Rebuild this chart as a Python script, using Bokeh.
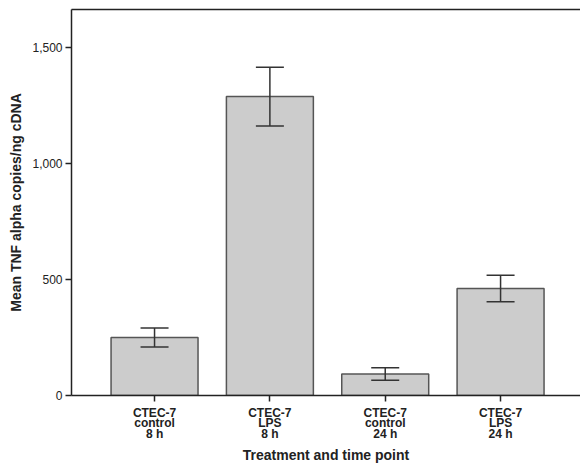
from bokeh.plotting import figure
from bokeh.models import (ColumnDataSource, Range1d, FixedTicker, NumeralTickFormatter,
                          Whisker, TeeHead, LinearAxis)
from bokeh.embed import file_html
from bokeh.resources import INLINE

categories = ["CTEC-7\ncontrol\n8 h", "CTEC-7\nLPS\n8 h", "CTEC-7\ncontrol\n24 h", "CTEC-7\nLPS\n24 h"]
means = [250, 1290, 93, 462]
errors = [41, 127, 27, 57]
y_ticks = [0, 500, 1000, 1500]
x_title = "Treatment and time point"
y_title = "Mean TNF alpha copies/ng cDNA"

xs = list(range(len(categories)))
src = ColumnDataSource(dict(
    x=xs, top=means,
    upper=[m + e for m, e in zip(means, errors)],
    lower=[m - e for m, e in zip(means, errors)],
))

p = figure(width=580, height=466, output_backend="svg", toolbar_location=None,
           x_range=Range1d(-0.72, 3.693), y_range=Range1d(0, 1666),
           min_border_left=71, min_border_right=0, min_border_top=9, min_border_bottom=70)
p.outline_line_color = None
p.xgrid.visible = False
p.ygrid.visible = False
p.background_fill_color = "white"
p.border_fill_color = "white"

p.vbar(x="x", top="top", width=0.754, bottom=0, source=src,
       fill_color="#cccccc", line_color="#555555", line_width=1.5)

w = Whisker(base="x", upper="upper", lower="lower", source=src, level="overlay",
            line_color="#333333", line_width=1.5,
            upper_head=TeeHead(size=28, line_color="#333333", line_width=1.5),
            lower_head=TeeHead(size=28, line_color="#333333", line_width=1.5))
p.add_layout(w)

font = "Liberation Sans"

xa = p.xaxis[0]
xa.ticker = FixedTicker(ticks=xs)
xa.major_label_overrides = {i: c for i, c in zip(xs, categories)}
xa.major_label_text_font = font
xa.major_label_text_font_size = "12px"
xa.major_label_text_font_style = "bold"
xa.major_label_text_color = "#222222"
xa.major_label_text_line_height = 0.77
xa.major_label_standoff = 4
xa.major_tick_out = 6
xa.major_tick_in = 0
xa.minor_tick_out = 0
xa.minor_tick_in = 0
xa.axis_line_color = "#222222"
xa.axis_line_width = 1.5
xa.major_tick_line_color = "#222222"
xa.major_tick_line_width = 1.5
xa.axis_label = x_title
xa.axis_label_text_font = font
xa.axis_label_text_font_size = "14px"
xa.axis_label_text_font_style = "bold"
xa.axis_label_text_color = "#222222"
xa.axis_label_standoff = 3

ya = p.yaxis[0]
ya.ticker = FixedTicker(ticks=y_ticks)
ya.formatter = NumeralTickFormatter(format="0,0")
ya.major_label_text_font = font
ya.major_label_text_font_size = "12px"
ya.major_label_text_color = "#222222"
ya.major_label_standoff = 3
ya.major_tick_out = 6
ya.major_tick_in = 0
ya.minor_tick_out = 0
ya.minor_tick_in = 0
ya.axis_line_color = "#222222"
ya.axis_line_width = 1.5
ya.major_tick_line_color = "#222222"
ya.major_tick_line_width = 1.5
ya.axis_label = y_title
ya.axis_label_text_font = font
ya.axis_label_text_font_size = "14px"
ya.axis_label_text_font_style = "bold"
ya.axis_label_text_color = "#222222"
ya.axis_label_standoff = 5

top_axis = LinearAxis(ticker=FixedTicker(ticks=[]), axis_line_color="#222222",
                      axis_line_width=1.5, major_tick_out=0, major_tick_in=0,
                      minor_tick_out=0, minor_tick_in=0, major_label_standoff=0,
                      major_label_text_font_size="0px")
p.add_layout(top_axis, "above")

open("out.html", "w").write(file_html(p, INLINE))
